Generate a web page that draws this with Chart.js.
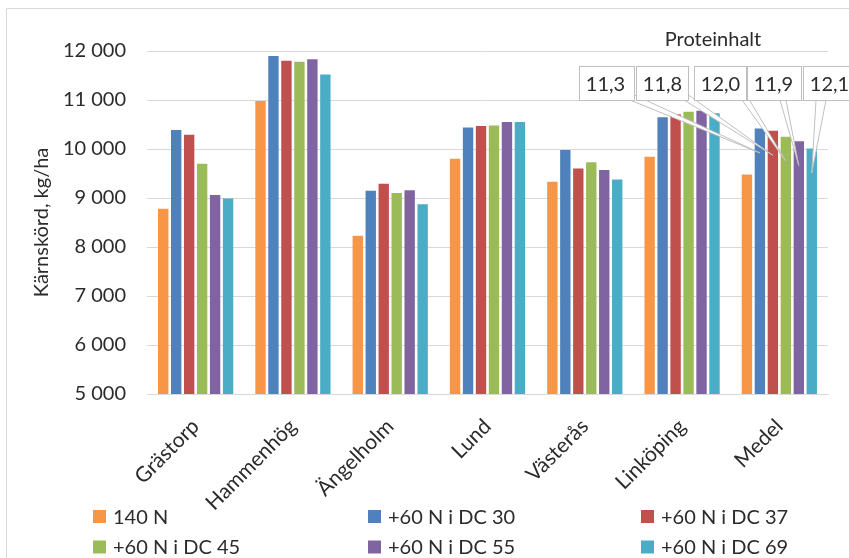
<!DOCTYPE html>
<html>
<head>
<meta charset="utf-8">
<script src="https://cdn.jsdelivr.net/npm/chart.js@4.4.1/dist/chart.umd.min.js"></script>
<style>
  html, body { margin: 0; padding: 0; background: #ffffff; }
  #wrap { width: 849px; height: 558px; position: relative; }
</style>
</head>
<body>
<div id="wrap"><canvas id="c" width="849" height="558"></canvas></div>
<script>
// ---- Data ----
const categories = ['Grästorp', 'Hammenhög', 'Ängelholm', 'Lund', 'Västerås', 'Linköping', 'Medel'];
const seriesLabels = ['140 N', '+60 N i DC 30', '+60 N i DC 37', '+60 N i DC 45', '+60 N i DC 55', '+60 N i DC 69'];
const s140N  = [8780, 10980, 8230, 9800, 9330, 9840, 9480];
const sDC30  = [10390, 11900, 9150, 10440, 9980, 10650, 10420];
const sDC37  = [10290, 11800, 9290, 10470, 9600, 10710, 10370];
const sDC45  = [9700, 11780, 9100, 10480, 9730, 10760, 10250];
const sDC55  = [9060, 11830, 9160, 10550, 9570, 10780, 10160];
const sDC69  = [8990, 11520, 8870, 10550, 9380, 10730, 10010];
const proteinTitle = 'Proteinhalt';
const proteinLabels = ['11,3', '11,8', '12,0', '11,9', '12,1'];
const yTitle = 'Kärnskörd, kg/ha';
const yMin = 5000, yMax = 12000, yStep = 1000;

const colors = ['#F79646', '#4F81BD', '#C0504D', '#9BBB59', '#8064A2', '#4BACC6'];
const seriesData = [s140N, sDC30, sDC37, sDC45, sDC55, sDC69];
const FONT = 'Lato';
const TXT = '#2b2b2b';

function fmt(v) { return String(v).replace(/\B(?=(\d{3})+(?!\d))/g, ' '); }

const decorPlugin = {
  id: 'decor',
  beforeDraw(chart) {
    const ctx = chart.ctx;
    ctx.save();
    ctx.strokeStyle = '#d9d9d9';
    ctx.lineWidth = 1;
    ctx.beginPath();
    ctx.moveTo(6.5, 558);
    ctx.lineTo(6.5, 8.5);
    ctx.lineTo(849, 8.5);
    ctx.stroke();
    ctx.restore();
  },
  afterDatasetsDraw(chart) {
    const ctx = chart.ctx;
    ctx.save();
    // Proteinhalt title
    ctx.font = '20px ' + FONT;
    ctx.fillStyle = TXT;
    ctx.textAlign = 'center';
    ctx.textBaseline = 'middle';
    ctx.fillText(proteinTitle, 713, 40);

    // Callout boxes (style positions) pointing at Medel bars of series 1..5
    const boxes = [
      {l: 579.5, r: 634.5, b1: [630, 100], b2: [634.5, 95]},
      {l: 636.5, r: 688.5, b1: [684, 100], b2: [688.5, 95]},
      {l: 694.5, r: 746.5, b1: [742, 100], b2: [746.5, 95]},
      {l: 747.5, r: 801.5, b1: [780, 100], b2: [786, 100]},
      {l: 803.5, r: 856.5, b1: [816, 100], b2: [826, 100]}
    ];
    const top = 66.5, bot = 100.5;
    const medelIdx = categories.length - 1;
    boxes.forEach((bx, k) => {
      const el = chart.getDatasetMeta(k + 1).data[medelIdx];
      const tip = [el.x, el.y + 24.5];
      ctx.beginPath();
      ctx.moveTo(bx.b1[0], bx.b1[1]);
      ctx.lineTo(tip[0], tip[1]);
      ctx.lineTo(bx.b2[0], bx.b2[1]);
      ctx.closePath();
      ctx.fillStyle = '#ffffff';
      ctx.fill();
      ctx.strokeStyle = '#bfbfbf';
      ctx.lineWidth = 1;
      ctx.stroke();
    });
    boxes.forEach((bx, k) => {
      ctx.fillStyle = '#ffffff';
      ctx.fillRect(bx.l, top, bx.r - bx.l, bot - top);
      ctx.strokeStyle = '#bfbfbf';
      ctx.strokeRect(bx.l, top, bx.r - bx.l, bot - top);
      ctx.font = '20px ' + FONT;
      ctx.fillStyle = TXT;
      ctx.textAlign = 'center';
      ctx.textBaseline = 'middle';
      ctx.fillText(proteinLabels[k], (bx.l + Math.min(bx.r, bx.l + 52)) / 2, (top + bot) / 2 + 1);
    });

    // Legend: 3 columns x 2 rows
    const colX = [93, 368, 641];
    const rowY = [516.5, 547];
    chart.data.datasets.forEach((ds, i) => {
      const x = colX[i % 3], y = rowY[Math.floor(i / 3)];
      ctx.fillStyle = ds.backgroundColor;
      ctx.fillRect(x, y - 6.5, 13, 13);
      ctx.font = '20px ' + FONT;
      ctx.fillStyle = TXT;
      ctx.textAlign = 'left';
      ctx.textBaseline = 'middle';
      ctx.fillText(ds.label, x + 20, y + 1);
    });
    ctx.restore();
  }
};

new Chart(document.getElementById('c'), {
  type: 'bar',
  data: {
    labels: categories,
    datasets: seriesLabels.map((lab, i) => ({
      label: lab,
      data: seriesData[i],
      backgroundColor: colors[i],
      borderWidth: 0,
      barPercentage: 0.8,
      categoryPercentage: 0.8
    }))
  },
  options: {
    responsive: false,
    animation: false,
    devicePixelRatio: 1,
    layout: { padding: { top: 51, right: 21, left: 0, bottom: 0 } },
    plugins: { legend: { display: false }, tooltip: { enabled: false }, title: { display: false } },
    scales: {
      x: {
        grid: { display: false, drawTicks: false },
        border: { display: true, color: '#d9d9d9', width: 1 },
        ticks: {
          font: { family: FONT, size: 21 },
          color: TXT,
          maxRotation: 45,
          minRotation: 45,
          padding: 20,
          autoSkip: false
        },
        afterFit(scale) { scale.height = 164; }
      },
      y: {
        min: yMin,
        max: yMax,
        grid: { color: '#d9d9d9', lineWidth: 1, drawTicks: false },
        border: { display: false },
        ticks: {
          stepSize: yStep,
          font: { family: FONT, size: 20 },
          color: TXT,
          padding: 21,
          callback: (v) => fmt(v)
        },
        title: {
          display: true,
          text: yTitle,
          font: { family: FONT, size: 20 },
          color: TXT,
          padding: { top: 30, bottom: 0 }
        },
        afterFit(scale) { scale.width = 147; }
      }
    }
  },
  plugins: [decorPlugin]
});
</script>
</body>
</html>
